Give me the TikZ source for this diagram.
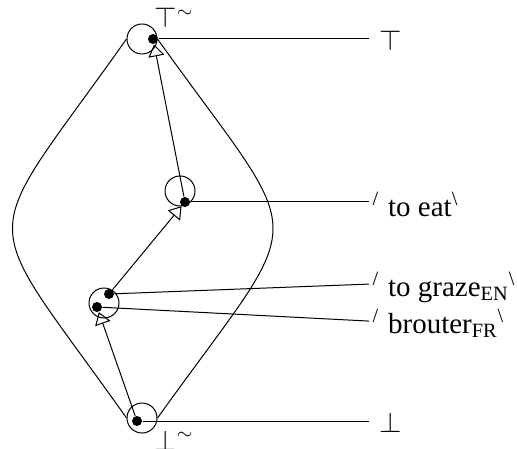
\documentclass[tikz,border=0pt]{standalone}
\usepackage{fontspec}
\setmainfont{Liberation Serif}
\usetikzlibrary{arrows.meta,positioning,calc}
\newcommand{\lsl}{\textsuperscript{/}\hspace{4.5pt}}
\newcommand{\rsl}{\textsuperscript{\textbackslash}}
\tikzset{
  ring/.style={circle, draw, minimum size=15pt, inner sep=0pt},
  dot/.style={circle, fill, minimum size=5pt, inner sep=0pt},
  lab/.style={anchor=base west, inner xsep=1.5pt, inner ysep=0pt, text depth=0pt, font=\fontsize{14.5}{17}\selectfont},
  arr/.style={-{Triangle[open, length=6pt, width=8pt]}}
}

\begin{document}
\begin{tikzpicture}[x=0.5pt, y=-0.5pt, line width=0.5pt]
  \useasboundingbox (0,0) rectangle (517,448);
  % lattice elements
  \node[ring] (top) at (142,39) {};
  \node[ring] (eat) at (180,191) {};
  \node[ring] (graze) at (104,303) {};
  \node[ring] (bot) at (142,418) {};
  \node[dot] (tdot) at (153,39) {};
  \node[dot] (edot) at (185,202) {};
  \node[dot] (gdot) at (109,294) {};
  \node[dot] (brdot) at (97,307) {};
  \node[dot] (bdot) at (137,421) {};
  \node[lab, inner xsep=0pt] (ttil) at (154,28) {$\top^{\sim}$};
  \node[lab, inner xsep=0pt] (btil) at (154,450) {$\bot^{\sim}$};
  % outer hull
  \draw (top.west) .. controls +(-152,215) and +(-152,-215) .. (bot.west);
  \draw (top.east) .. controls +(154,215) and +(154,-215) .. (bot.east);
  % order
  \draw[arr] (bdot) -- (brdot);
  \draw[arr] (gdot) -- (edot);
  \draw[arr] (edot) -- (tdot);
  % labels
  \node[lab, inner xsep=5pt] (ltop) at (369,51) {$\top$};
  \node[lab] (leat) at (369,216) {\lsl to eat\rsl};
  \node[lab] (lgraze) at (369,296) {\lsl to graze\textsubscript{EN}\rsl};
  \node[lab] (lbrout) at (369,333) {\lsl brouter\textsubscript{FR}\rsl};
  \node[lab, inner xsep=5pt] (lbot) at (369,432) {$\bot$};
  \draw (tdot) -- (tdot -| ltop.west);
  \draw (edot) -- (edot -| leat.west);
  \draw (gdot) -- (lgraze.west);
  \draw (brdot) -- (lbrout.west);
  \draw (bdot) -- (bdot -| lbot.west);
\end{tikzpicture}
\end{document}
